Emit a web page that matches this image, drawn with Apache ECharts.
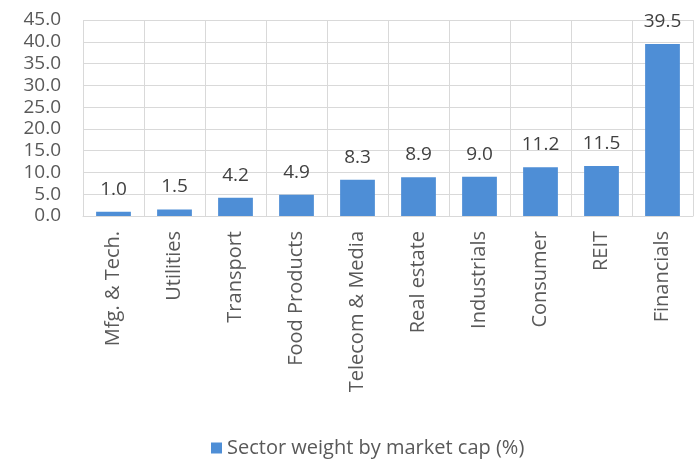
<!DOCTYPE html>
<html>
<head>
<meta charset="utf-8">
<script src="https://cdn.jsdelivr.net/npm/echarts@6/dist/echarts.min.js"></script>
<style>
  html, body { margin: 0; padding: 0; background: #ffffff; }
  #chart { width: 700px; height: 459px; }
</style>
</head>
<body>
<div id="chart"></div>
<script>
// Sector weights by market capitalisation (%)
const sectors = ['Mfg. & Tech.', 'Utilities', 'Transport', 'Food Products', 'Telecom & Media',
                 'Real estate', 'Industrials', 'Consumer', 'REIT', 'Financials'];
const weights = [1.0, 1.5, 4.2, 4.9, 8.3, 8.9, 9.0, 11.2, 11.5, 39.5];
const seriesName = 'Sector weight by market cap (%)';

const font = '"Open Sans", "Noto Sans", sans-serif';
const chart = echarts.init(document.getElementById('chart'), null, { renderer: 'canvas' });

chart.setOption({
  animation: false,
  backgroundColor: '#ffffff',
  textStyle: { fontFamily: font },
  grid: { left: 83, right: 7, top: 20, bottom: 243 },
  legend: {
    top: 433,
    left: 206,
    itemWidth: 11,
    itemHeight: 11,
    icon: 'rect',
    itemGap: 6,
    textStyle: { fontFamily: font, fontSize: 20, color: '#595959' },
    data: [seriesName]
  },
  xAxis: {
    type: 'category',
    data: sectors,
    axisLine: { show: true, lineStyle: { color: '#d9d9d9' } },
    axisTick: { show: false },
    splitLine: { show: true, lineStyle: { color: '#d9d9d9' } },
    axisLabel: {
      rotate: 90,
      interval: 0,
      margin: 15,
      fontFamily: font,
      fontSize: 20,
      color: '#595959'
    }
  },
  yAxis: {
    type: 'value',
    min: 0,
    max: 45,
    interval: 5,
    axisLine: { show: false },
    axisTick: { show: false },
    splitLine: { show: true, lineStyle: { color: '#d9d9d9' } },
    axisLabel: {
      margin: 22,
      fontFamily: font,
      fontSize: 19,
      color: '#595959',
      formatter: v => v.toFixed(1)
    }
  },
  series: [{
    name: seriesName,
    type: 'bar',
    data: weights,
    barCategoryGap: '43%',
    itemStyle: { color: '#4e8ed6' },
    label: {
      show: true,
      position: 'top',
      distance: 13,
      fontFamily: font,
      fontSize: 19,
      color: '#404040',
      formatter: p => p.value.toFixed(1)
    }
  }]
});
</script>
</body>
</html>
